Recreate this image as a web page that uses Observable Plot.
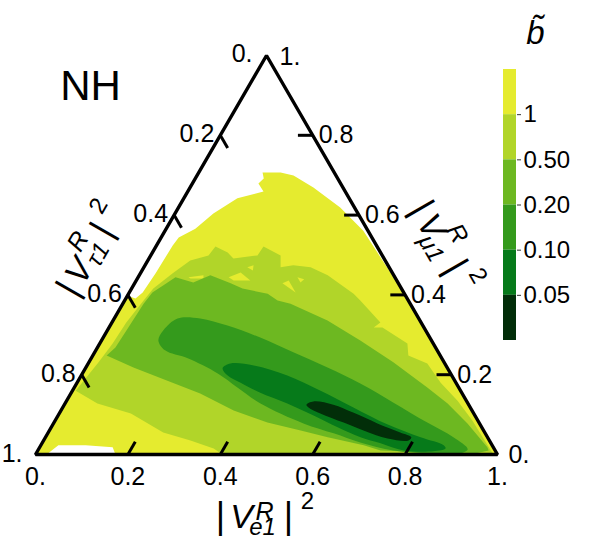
<!DOCTYPE html>
<html lang="en">
    <head>
        <meta charset="UTF-8">
        <script src="https://cdn.jsdelivr.net/npm/d3@7"></script>
        <script src="https://cdn.jsdelivr.net/npm/@observablehq/plot@0.6"></script>
        <title>NH</title>
        <style>
            body { margin: 0; background: #fff; }
            #chart { position: relative; width: 600px; height: 541px; overflow: hidden; }
            #chart svg { position: absolute; overflow: visible; background: transparent; }
        </style>
    </head>
    <body>
        <div id="chart"></div>
        <script>
            // contour outlines, as [|Ve1|^2, |Vmu1|^2]
            const regionOver1 = [[.173,0],[.158,.018],[.097,.023],[.038,.023],[.024,0],[0,0],[0,.398],[.021,.391],[.029,.406],[.033,.454],[.034,.486],[.035,.524],[.038,.544],[.063,.566],[.083,.604],[.116,.642],[.164,.659],[.143,.679],[.148,.692],[.138,.707],[.177,.707],[.209,.699],[.267,.669],[.350,.619],[.429,.561],[.500,.494],[.581,.418],[1,0]];
            const region05to1 = [[.007,.160],[.070,.128],[.155,.103],[.249,.055],[.318,.035],[.378,.015],[.405,0],[.991,0],[.903,.085],[.846,.135],[.787,.180],[.734,.228],[.683,.248],[.666,.278],[.592,.318],[.573,.318],[.581,.331],[.510,.386],[.487,.403],[.408,.449],[.361,.469],[.321,.474],[.296,.469],[.281,.499],[.233,.521],[.231,.499],[.183,.491],[.163,.506],[.129,.521],[.125,.499],[.092,.486],[.070,.454],[.047,.416],[.041,.386],[.031,.331],[.028,.278],[.021,.231]];
            const holes = [
                [[.109,.444],[.139,.449],[.143,.441],[.115,.441]],
                [[.196,.444],[.216,.456],[.247,.436],[.211,.436]],
                [[.224,.469],[.235,.474],[.240,.461]],
                [[.320,.429],[.330,.436],[.360,.406]],
                [[.345,.444],[.362,.439],[.358,.431]]
            ];
            const region02to05 = [[.030,.248],[.103,.218],[.193,.185],[.280,.153],[.374,.110],[.462,.080],[.544,.060],[.611,.043],[.699,.023],[.742,.010],[.786,.008],[.860,.003],[.942,0],[.976,.010],[.969,.018],[.896,.078],[.828,.128],[.764,.168],[.659,.231],[.560,.286],[.464,.336],[.363,.378],[.331,.386],[.301,.403],[.240,.416],[.208,.429],[.154,.449],[.126,.431],[.081,.444],[.065,.424],[.050,.406],[.045,.378],[.042,.318],[.039,.268]];
            const region01to02 = [[.123,.286],[.121,.311],[.137,.341],[.186,.341],[.254,.323],[.340,.293],[.430,.256],[.523,.218],[.614,.178],[.710,.130],[.808,.080],[.883,.043],[.929,.013],[.919,.003],[.854,.003],[.770,.010],[.688,.030],[.619,.053],[.541,.078],[.423,.128],[.353,.168],[.293,.203],[.209,.241],[.150,.261]];
            const region005to01 = [[.297,.216],[.308,.228],[.361,.223],[.446,.198],[.537,.160],[.629,.118],[.725,.075],[.812,.043],[.872,.023],[.880,.015],[.857,.008],[.792,.010],[.733,.028],[.682,.043],[.620,.068],[.553,.098],[.481,.128],[.409,.155],[.354,.180],[.317,.198]];
            const regionUnder005 = [[.524,.125],[.535,.133],[.582,.125],[.635,.105],[.701,.078],[.762,.055],[.792,.043],[.790,.035],[.742,.040],[.680,.060],[.627,.080],[.565,.103],[.532,.118]];

            const triangle = [[0,0],[1,0],[0,1]];
            const triTicks = [.2,.4,.6,.8];
            const triTickLabels = ["0.2","0.4","0.6","0.8"];
            const barLabels = ["1","0.50","0.20","0.10","0.05"];
            const barColors = ["#e5eb2f","#b1d529","#6db821","#349a1c","#067a1a","#022e09"];

            const tx = d => d[0] + d[1] / 2;
            const ty = d => d[1];
            const font = "'Liberation Sans', Arial, sans-serif";
            const tickSize = 25;
            const tickLen = .032;

            function fillRegion(pts, color, curve = "linear-closed") {
                return Plot.line(pts, {x: tx, y: ty, fill: color, stroke: "none", curve});
            }

            // ticks on each side, all given as pairs of ternary points
            const bottomTicks = triTicks.map(v => [[v, 0], [v, tickLen]]);
            const leftTicks = triTicks.map(v => [[0, 1 - v], [tickLen, 1 - v - tickLen]]);
            const rightTicks = triTicks.map(v => [[1 - v, v], [1 - v - tickLen, v]]);

            function tickMark(list) {
                return Plot.link(list, {
                    x1: d => tx(d[0]), y1: d => ty(d[0]), x2: d => tx(d[1]), y2: d => ty(d[1]),
                    stroke: "black", strokeWidth: 3
                });
            }
            function tickText(points, labels, opts) {
                return Plot.text(points, {x: tx, y: ty, text: (d, i) => labels[i], fontSize: tickSize, fill: "black", ...opts});
            }
            function freeText(t, x, y, size, opts) {
                return Plot.text([t], {frameAnchor: "top-left", textAnchor: "middle", lineAnchor: "middle", dx: x, dy: y, text: d => d, fontSize: size, fill: "black", ...opts});
            }

            // |V^R_x1|^2 is put together from loose pieces, rotated round a centre
            function mathLabel(cx, cy, angle, pieces) {
                const a = angle * Math.PI / 180;
                return pieces.map(p => freeText(
                    p.t,
                    cx + p.dx * Math.cos(a) - p.dy * Math.sin(a),
                    cy + p.dx * Math.sin(a) + p.dy * Math.cos(a),
                    p.size,
                    {rotate: angle, fontStyle: p.plain ? "normal" : "italic"}
                ));
            }
            const pieces = (r, sub, s) => [
                {t: "|", dx: -40, dy: 0, size: 36, plain: true},
                {t: "V", dx: -19, dy: 1, size: 34},
                {t: "R", dx: r[0], dy: r[1], size: 25},
                {t: sub, dx: s[0], dy: s[1], size: 24},
                {t: "|", dx: 28, dy: 0, size: 36, plain: true},
                {t: "2", dx: 47, dy: -15, size: 24, plain: true}
            ];

            const plot = Plot.plot({
                width: 600,
                height: 541,
                margin: 0,
                x: {domain: [0, 1], range: [35, 497], axis: null},
                y: {domain: [0, 1], range: [454, 55], axis: null},
                style: {fontFamily: font, background: "transparent"},
                marks: [
                    fillRegion(regionOver1, barColors[0]),
                    fillRegion(region05to1, barColors[1]),
                    holes.map(h => fillRegion(h, barColors[0])),
                    fillRegion(region02to05, barColors[2]),
                    fillRegion(region01to02, barColors[3], "catmull-rom-closed"),
                    fillRegion(region005to01, barColors[4], "catmull-rom-closed"),
                    fillRegion(regionUnder005, barColors[5], "catmull-rom-closed"),
                    Plot.line(triangle, {x: tx, y: ty, stroke: "black", strokeWidth: 3.4, strokeLinejoin: "miter", curve: "linear-closed"}),
                    tickMark(bottomTicks),
                    tickMark(leftTicks),
                    tickMark(rightTicks),
                    tickText(triTicks.map(v => [v, 0]), triTickLabels, {dy: 22}),
                    tickText(triTicks.map(v => [0, 1 - v]), triTickLabels, {textAnchor: "end", dx: -6, dy: -1}),
                    tickText(triTicks.map(v => [1 - v, v]), triTickLabels, {textAnchor: "start", dx: 6}),
                    tickText([[0, 0], [1, 0]], ["0.", "1."], {dy: 22}),
                    tickText([[0, 0]], ["1."], {textAnchor: "end", dx: -13, dy: -1}),
                    tickText([[1, 0]], ["0."], {textAnchor: "start", dx: 11}),
                    tickText([[0, 1]], ["0."], {textAnchor: "end", dx: -14, dy: -2}),
                    tickText([[0, 1]], ["1."], {textAnchor: "start", dx: 13, dy: 1}),
                    freeText("NH", 90, 86, 42),
                    freeText("b\u0303", 535, 33, 33, {fontStyle: "italic"}),
                    mathLabel(260, 516, 0, pieces([4, -5], "e1", [2, 11])),
                    mathLabel(87.5, 253.7, -60, pieces([6, -15], "\u03c41", [5, 9])),
                    mathLabel(441, 242, 60, pieces([0, -18], "\u03bc1", [0, 12]))
                ]
            });

            const bar = Plot.plot({
                width: 120,
                height: 300,
                marginLeft: 23,
                marginRight: 84,
                marginTop: 14,
                marginBottom: 15,
                x: {domain: [0, 1], axis: null},
                y: {domain: [0, 6], reverse: true, axis: null},
                style: {fontFamily: font, background: "transparent"},
                marks: [
                    Plot.rect(barColors, {x1: () => 0, x2: () => 1, y1: (d, i) => i, y2: (d, i) => i + 1, fill: d => d}),
                    Plot.axisY({
                        anchor: "right",
                        ticks: [1, 2, 3, 4, 5],
                        tickFormat: i => barLabels[i - 1],
                        tickSize: 4,
                        tickPadding: 3,
                        fontSize: 24,
                        label: null,
                        stroke: "#333",
                        color: "black"
                    })
                ]
            });

            const chart = document.getElementById("chart");
            plot.style.left = "0px";
            plot.style.top = "0px";
            bar.style.left = "480px";
            bar.style.top = "55px";
            chart.append(plot, bar);
        </script>
    </body>
</html>
